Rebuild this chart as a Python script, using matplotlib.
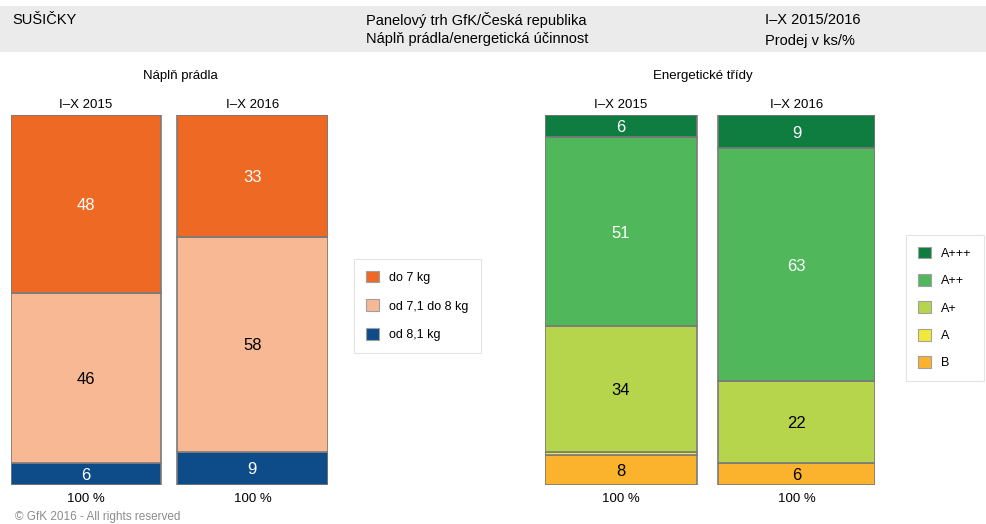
import matplotlib
matplotlib.use("Agg")
import matplotlib.pyplot as plt
from matplotlib.patches import Rectangle

plt.rcParams['font.family'] = ['Liberation Sans', 'DejaVu Sans']

# ---- data ----
periods = ["I–X 2015", "I–X 2016"]
load_cats = ["do 7 kg", "od 7,1 do 8 kg", "od 8,1 kg"]
load_vals = {"do 7 kg": [48, 33], "od 7,1 do 8 kg": [46, 58], "od 8,1 kg": [6, 9]}
energy_cats = ["A+++", "A++", "A+", "A", "B"]
energy_vals = {"A+++": [6, 9], "A++": [51, 63], "A+": [34, 22], "A": [1, 0], "B": [8, 6]}
totals = ["100 %", "100 %"]

load_colors = {"do 7 kg": "#EE6A24", "od 7,1 do 8 kg": "#F9B894", "od 8,1 kg": "#0E4C89"}
load_text = {"do 7 kg": "white", "od 7,1 do 8 kg": "black", "od 8,1 kg": "white"}
energy_colors = {"A+++": "#0F7D40", "A++": "#50B85B", "A+": "#B6D44C", "A": "#F2E83A", "B": "#FBB32E"}
energy_text = {"A+++": "white", "A++": "white", "A+": "black", "A": "black", "B": "black"}

W, H = 987, 524
fig = plt.figure(figsize=(W / 100, H / 100), dpi=100)

def fx(px):
    return px / W

def fy(py):
    return 1 - py / H

# header band
fig.patches.append(Rectangle((0, fy(52)), 1, (52 - 6) / H, transform=fig.transFigure,
                             facecolor="#EBEBEB", edgecolor="none", zorder=0))
hs = 10.5
fig.text(fx(12), fy(20), "SUŠIČKY", fontsize=hs, va="center", ha="left")
fig.text(fx(366), fy(20), "Panelový trh GfK/Česká republika", fontsize=hs, va="center")
fig.text(fx(366), fy(39), "Náplň prádla/energetická účinnost", fontsize=hs, va="center")
fig.text(fx(765), fy(20), "I–X 2015/2016", fontsize=hs, va="center")
fig.text(fx(765), fy(41), "Prodej v ks/%", fontsize=hs, va="center")

fig.text(fx(15), fy(517), "© GfK 2016 - All rights reserved", fontsize=8.5,
         color="#8C8C8C", va="center")


def stacked(ax, cats, vals, colors, tcolors, widths):
    bottoms = [0.0] * len(periods)
    x = list(range(len(periods)))
    for c in reversed(cats):
        v = vals[c]
        ax.bar(x, v, width=widths, bottom=bottoms, color=colors[c],
               edgecolor="#7A7A7A", linewidth=1.2, label=c)
        for i in x:
            if v[i] >= 3:
                ax.text(i, bottoms[i] + v[i] / 2, str(v[i]), ha="center",
                        va="center_baseline", fontsize=12, color=tcolors[c])
        bottoms = [b + vv for b, vv in zip(bottoms, v)]
    for i in x:
        ax.text(i, 102.8, periods[i], ha="center", va="center", fontsize=9.5)
        ax.text(i, -3.9, totals[i], ha="center", va="center", fontsize=9.5)
    ax.set_ylim(0, 100)
    ax.axis("off")


ybot, ytop = 485, 115
ax1 = fig.add_axes([fx(11), fy(ybot), fx(328 - 11), (ybot - ytop) / H])
ax1.set_xlim(-0.45, 1.454)
stacked(ax1, load_cats, load_vals, load_colors, load_text, [0.90, 0.907])
fig.text(fx(180), fy(76), "Náplň prádla", fontsize=9.5, ha="center", va="center")

ax2 = fig.add_axes([fx(545), fy(ybot), fx(875 - 545), (ybot - ytop) / H])
ax2.set_xlim(-0.433, 1.447)
stacked(ax2, energy_cats, energy_vals, energy_colors, energy_text, [0.866, 0.895])
fig.text(fx(703), fy(76), "Energetické třídy", fontsize=9.5, ha="center", va="center")

# legends
def legend(cats, colors, bbox, spacing):
    handles = [Rectangle((0, 0), 1, 1, facecolor=colors[c], edgecolor="#A0A0A0", linewidth=0.8)
               for c in cats]
    leg = fig.legend(handles, cats, loc="center", bbox_to_anchor=bbox,
                     bbox_transform=fig.transFigure, frameon=True, fontsize=9,
                     handlelength=1.05, handleheight=1.05, handletextpad=0.8,
                     labelspacing=spacing, borderpad=0.95, borderaxespad=0, fancybox=False)
    leg.get_frame().set_edgecolor("#DDDDDD")
    leg.get_frame().set_linewidth(0.8)

legend(load_cats, load_colors, (fx(417.5), fy(306)), 1.25)
legend(energy_cats, energy_colors, (fx(945), fy(308)), 1.15)

fig.savefig("out.png", dpi=100)
